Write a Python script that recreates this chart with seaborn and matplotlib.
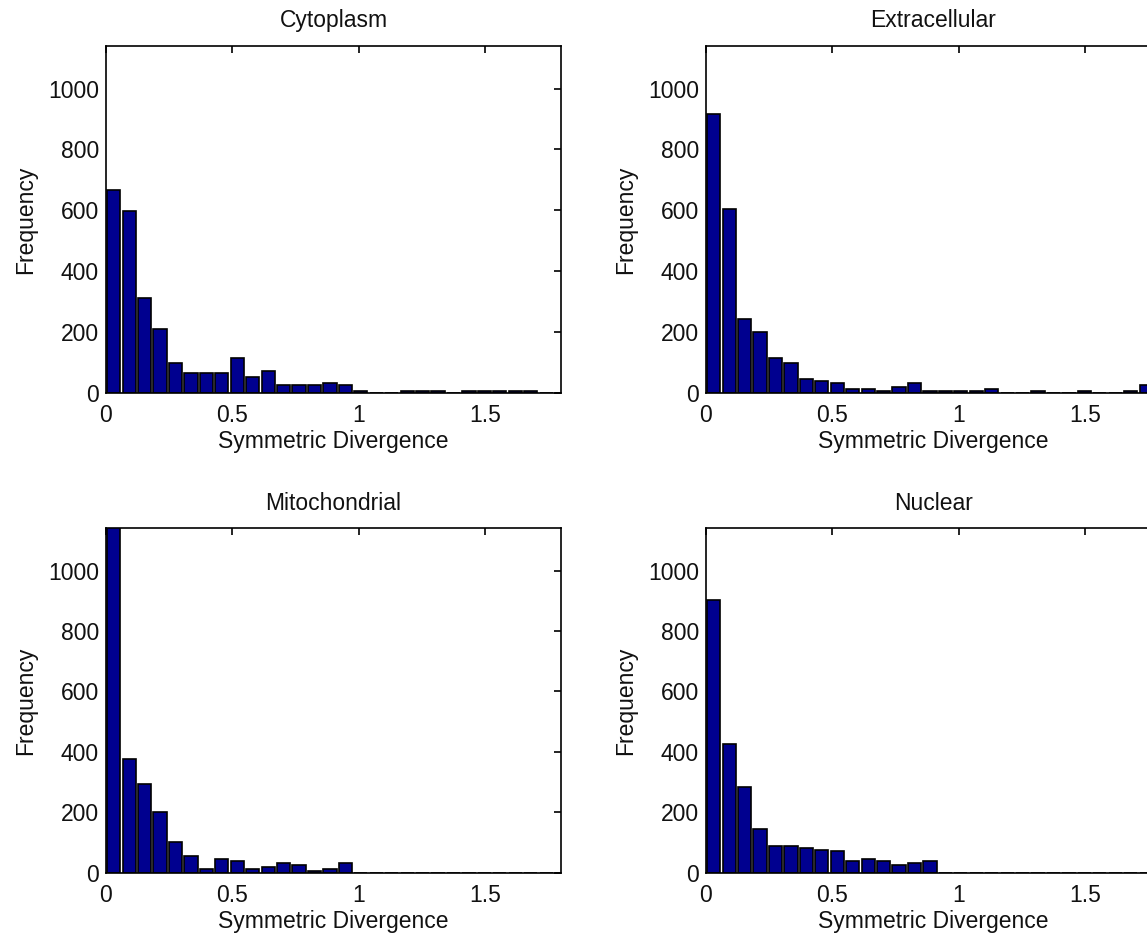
import numpy as np
import pandas as pd
import matplotlib
matplotlib.use("Agg")
import matplotlib.pyplot as plt
import seaborn as sns

# ---- data ----
bin_width = 0.0611
n_bins = 30

titles = ["Cytoplasm", "Extracellular", "Mitochondrial", "Nuclear"]

cytoplasm = [668, 598, 312, 210, 97, 64, 64, 64, 114, 50, 70, 25, 25, 25, 33, 25,
             7, 0, 0, 5, 5, 5, 0, 5, 5, 5, 5, 5, 0, 0]
extracellular = [917, 605, 243, 199, 114, 97, 44, 40, 33, 11, 11, 7, 20, 33, 5, 5,
                 5, 5, 12, 0, 0, 5, 0, 0, 5, 0, 0, 5, 25, 0]
mitochondrial = [1150, 376, 295, 201, 101, 55, 12, 45, 39, 12, 20, 33, 25, 7, 12, 33,
                 0, 0, 0, 0, 0, 0, 0, 0, 0, 0, 0, 0, 0, 0]
nuclear = [902, 425, 283, 145, 87, 87, 82, 76, 71, 38, 45, 38, 25, 33, 38, 0,
           0, 0, 0, 0, 0, 0, 0, 0, 0, 0, 0, 0, 0, 0]

series = [cytoplasm, extracellular, mitochondrial, nuclear]

x_ticks = [0, 0.5, 1, 1.5]
x_ticklabels = ["0", "0.5", "1", "1.5"]
y_ticks = [0, 200, 400, 600, 800, 1000]
x_label = "Symmetric Divergence"
y_label = "Frequency"

# ---- style ----
sns.set_style("white")
plt.rcParams["font.family"] = ["Liberation Sans", "DejaVu Sans"]
plt.rcParams["font.size"] = 16.5
plt.rcParams["text.color"] = "#111111"
plt.rcParams["axes.labelcolor"] = "#111111"

W, H = 1147, 936
fig = plt.figure(figsize=(W / 100, H / 100), dpi=100)

positions = [
    [106 / W, 1 - 392.7 / H, 455 / W, 346.7 / H],
    [706 / W, 1 - 392.7 / H, 455 / W, 346.7 / H],
    [106 / W, 1 - 872.7 / H, 455 / W, 344.4 / H],
    [706 / W, 1 - 872.7 / H, 455 / W, 344.4 / H],
]

edges = [i * bin_width for i in range(n_bins + 1)]
centers = [(edges[i] + edges[i + 1]) / 2 for i in range(n_bins)]

for pos, title, counts in zip(positions, titles, series):
    ax = fig.add_axes(pos)
    df = pd.DataFrame({"x": centers, "w": counts})
    sns.histplot(data=df, x="x", weights="w", bins=edges, shrink=0.86,
                 color="#00008F", edgecolor="black", linewidth=1.2,
                 alpha=1.0, ax=ax)
    ax.set_xlim(0, 1.8)
    ax.set_ylim(0, 1140)
    ax.set_xticks(x_ticks)
    ax.set_xticklabels(x_ticklabels)
    ax.set_yticks(y_ticks)
    ax.tick_params(direction="in", length=5, width=1.2, top=True, right=True,
                   labelsize=16.5, colors="black", labelcolor="#111111")
    ax.tick_params(axis="x", pad=8)
    ax.tick_params(axis="y", pad=5)
    for s in ax.spines.values():
        s.set_visible(True)
        s.set_linewidth(1.2)
        s.set_color("black")
    ax.set_title(title, fontsize=16.5, pad=13.5)
    ax.set_xlabel(x_label, fontsize=16.5, labelpad=2)
    ax.set_ylabel(y_label, fontsize=16.5, labelpad=8)

fig.savefig("out.png", dpi=100, facecolor="white")
